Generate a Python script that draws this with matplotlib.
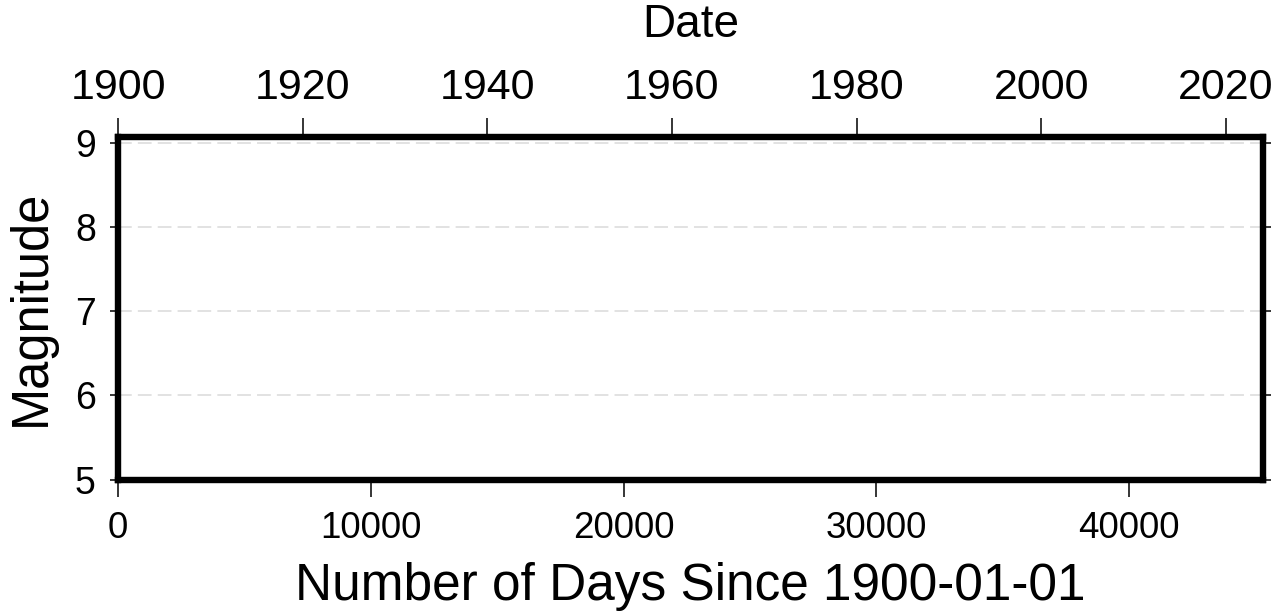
import numpy as np
import matplotlib.pyplot as plt

plt.rcParams['font.family'] = ['Liberation Sans', 'DejaVu Sans']

# axis ranges (days since 1900-01-01, magnitude)
day_range = [0, 45280]
mag_range = [5, 9.07]
day_ticks = [0, 10000, 20000, 30000, 40000]
mag_ticks = [5, 6, 7, 8, 9]
year_ticks = [1900, 1920, 1940, 1960, 1980, 2000, 2020]

t0 = np.datetime64('1900-01-01')
year_pos = [(np.datetime64('%d-01-01' % y) - t0).astype(int) for y in year_ticks]

fig = plt.figure(figsize=(12.8, 6.13), dpi=100)
ax = fig.add_axes([118/1280, (613-479.5)/613, (1262.5-118)/1280, (479.5-137)/613])

ax.set_xlim(day_range)
ax.set_ylim(mag_range)
ax.set_xticks(day_ticks)
ax.set_yticks(mag_ticks)
ax.grid(axis='y', color='#dadada', linestyle=(0, (9, 4)), linewidth=1.1)
ax.set_axisbelow(True)

for s in ax.spines.values():
    s.set_linewidth(4.6)
ax.tick_params(axis='x', direction='out', length=12.5, width=1.1, labelsize=26.5, pad=10)
ax.tick_params(axis='y', direction='out', length=6, width=1.1, labelsize=27, pad=10,
               right=True)
ax.set_xlabel('Number of Days Since 1900-01-01', fontsize=37, labelpad=12)
ax.set_ylabel('Magnitude', fontsize=36.5, labelpad=14)

top = ax.twiny()
top.set_xlim(day_range)
top.set_xticks(year_pos)
top.set_xticklabels([str(y) for y in year_ticks])
top.tick_params(axis='x', direction='out', length=14, width=1.1, labelsize=31, pad=7)
top.set_xlabel('Date', fontsize=33, labelpad=22)
for s in top.spines.values():
    s.set_visible(False)

fig.savefig('out.png', dpi=100)
